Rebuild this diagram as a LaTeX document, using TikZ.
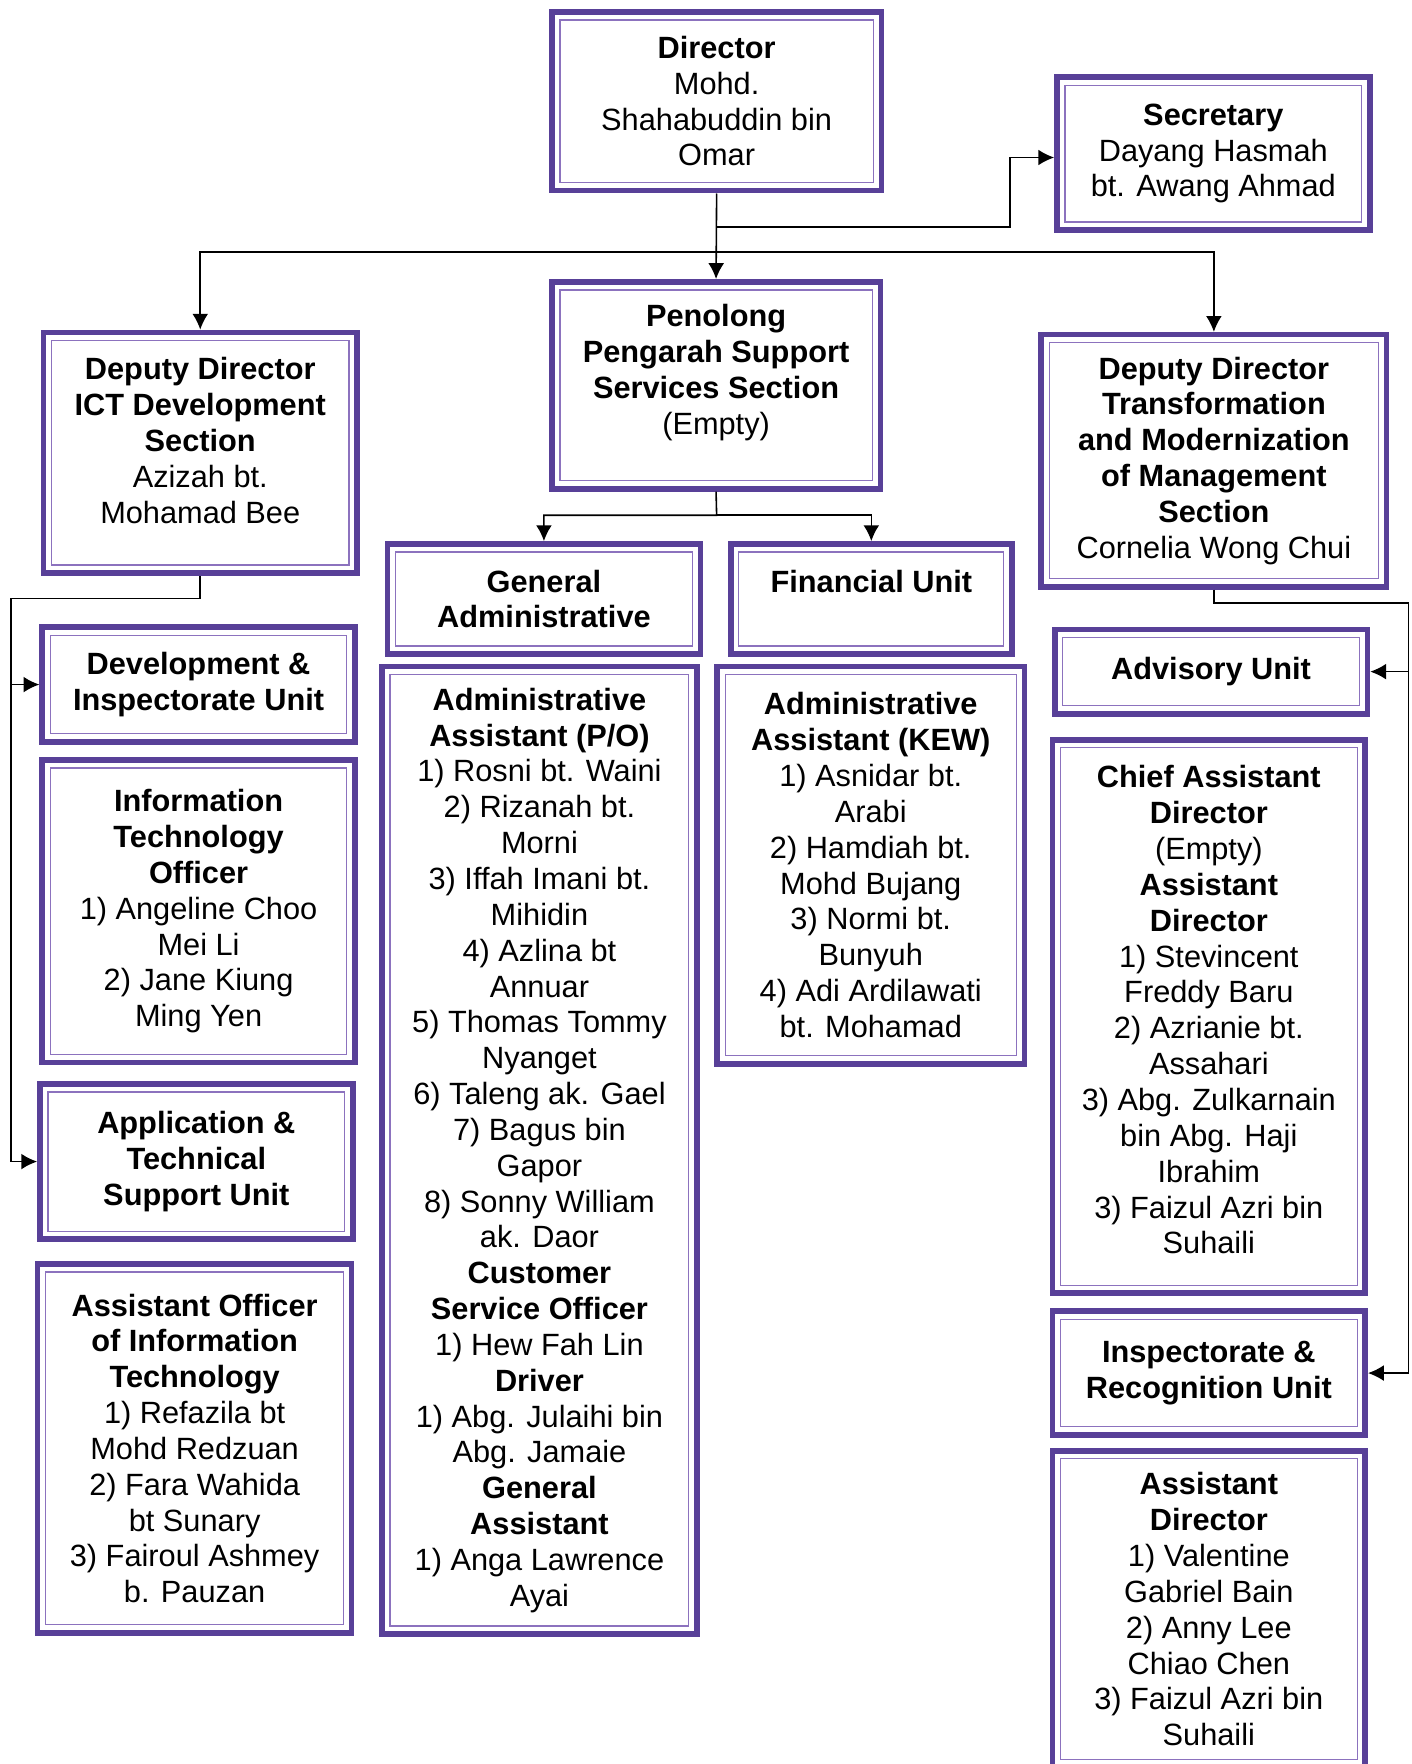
\documentclass[tikz,border=0pt]{standalone}
\usepackage{fontspec}
\setmainfont{Liberation Sans}
\usetikzlibrary{arrows.meta}
\definecolor{boxpurple}{RGB}{88,64,152}
\definecolor{linepurple}{RGB}{140,114,190}
\tikzset{
    orgbox/.style={draw=boxpurple,line width=3.2pt,fill=white,align=center,inner sep=0pt,
        font=\fontsize{17.5}{20.4}\selectfont,
        path picture={\draw[linepurple,line width=0.7pt]([shift={(4.6pt,4.6pt)}]path picture bounding box.south west)rectangle([shift={(-4.6pt,-4.6pt)}]path picture bounding box.north east);}},
    boxsize/.style 2 args={minimum width=#1*0.0225cm-3.2pt,minimum height=#2*0.0225cm-3.2pt},
}
\begin{document}
\begin{tikzpicture}[x=0.0225cm,y=-0.0225cm,>={Latex[length=9pt,width=9pt]},line width=0.9pt]
    \useasboundingbox(0,0)rectangle(1255,1568);
    \node[orgbox,boxsize={298}{164}](dir)at(637,90){\textbf{Director}\\Mohd.\\Shahabuddin bin\\Omar};
    \node[orgbox,boxsize={283}{141}](sec)at(1078.5,136.5){\textbf{Secretary}\\Dayang Hasmah\\bt. Awang Ahmad};
    \node[orgbox,boxsize={297}{189},text depth=18pt](pen)at(636.5,342.5){\textbf{Penolong}\\\textbf{Pengarah Support}\\\textbf{Services Section}\\(Empty)};
    \node[orgbox,boxsize={284}{219},text depth=14pt](ddi)at(178,402.5){\textbf{Deputy Director}\\\textbf{ICT Development}\\\textbf{Section}\\Azizah bt.\\Mohamad Bee};
    \node[orgbox,boxsize={312}{229}](ddt)at(1079,409.5){\textbf{Deputy Director}\\\textbf{Transformation}\\\textbf{and Modernization}\\\textbf{of Management}\\\textbf{Section}\\Cornelia Wong Chui};

    \node[orgbox,boxsize={283}{103}](ga)at(483.5,532.5){\textbf{General}\\\textbf{Administrative}};
    \node[orgbox,boxsize={255}{103}](fu)at(774.5,532.5){\textbf{Financial Unit}\\\mbox{}};
    \node[orgbox,boxsize={285}{865}](aapo)at(479.5,1022.5){\textbf{Administrative}\\\textbf{Assistant (P/O)}\\1) Rosni bt. Waini\\2) Rizanah bt.\\Morni\\3) Iffah Imani bt.\\Mihidin\\4) Azlina bt\\Annuar\\5) Thomas Tommy\\Nyanget\\6) Taleng ak. Gael\\7) Bagus bin\\Gapor\\8) Sonny William\\ak. Daor\\\textbf{Customer}\\\textbf{Service Officer}\\1) Hew Fah Lin\\\textbf{Driver}\\1) Abg. Julaihi bin\\Abg. Jamaie\\\textbf{General}\\\textbf{Assistant}\\1) Anga Lawrence\\Ayai};
    \node[orgbox,boxsize={278}{358}](aakew)at(774,769){\textbf{Administrative}\\\textbf{Assistant (KEW)}\\1) Asnidar bt.\\Arabi\\2) Hamdiah bt.\\Mohd Bujang\\3) Normi bt.\\Bunyuh\\4) Adi Ardilawati\\bt. Mohamad};

    \node[orgbox,boxsize={283}{107}](dev)at(176.5,608.5){\textbf{Development \&}\\\textbf{Inspectorate Unit}};
    \node[orgbox,boxsize={283}{274}](ito)at(176.5,810){\textbf{Information}\\\textbf{Technology}\\\textbf{Officer}\\1) Angeline Choo\\Mei Li\\2) Jane Kiung\\Ming Yen};
    \node[orgbox,boxsize={283}{143}](app)at(174.5,1032.5){\textbf{Application \&}\\\textbf{Technical}\\\textbf{Support Unit}};
    \node[orgbox,boxsize={284}{333}](aoit)at(173,1287.5){\textbf{Assistant Officer}\\\textbf{of Information}\\\textbf{Technology}\\1) Refazila bt\\Mohd Redzuan\\2) Fara Wahida\\bt Sunary\\3) Fairoul Ashmey\\b. Pauzan};

    \node[orgbox,boxsize={283}{80}](adv)at(1076.5,597){\textbf{Advisory Unit}};
    \node[orgbox,boxsize={283}{497},text depth=7.6pt](cad)at(1074.5,903.5){\textbf{Chief Assistant}\\\textbf{Director}\\(Empty)\\\textbf{Assistant}\\\textbf{Director}\\1) Stevincent\\Freddy Baru\\2) Azrianie bt.\\Assahari\\3) Abg. Zulkarnain\\bin Abg. Haji\\Ibrahim\\3) Faizul Azri bin\\Suhaili};
    \node[orgbox,boxsize={283}{115}](irs)at(1074.5,1220.5){\textbf{Inspectorate \&}\\\textbf{Recognition Unit}};
    \node[orgbox,boxsize={283}{287}](ad)at(1074.5,1430.5){\textbf{Assistant}\\\textbf{Director}\\1) Valentine\\Gabriel Bain\\2) Anny Lee\\Chiao Chen\\3) Faizul Azri bin\\Suhaili};

    \coordinate(b1)at(637,202);
    \coordinate(s1)at(898,140);
    \coordinate(b2)at(637,224);
    \coordinate(b3)at(637,458);
    \coordinate(l1)at(10,532);
    \coordinate(r1)at(1252,536);
    \draw[->](dir.south)--(pen.north);
    \draw[->](b1)-|(s1)--(s1-|sec.west);
    \draw[->](b2)-|(ddi.north);
    \draw[->](b2)-|(ddt.north);
    \draw[->](pen.south)--(b3)-|(ga.north);
    \draw[->](b3)-|(fu.north);
    \draw[->](ddi.south)|-(l1)|-(dev.west);
    \draw[->](l1)|-(app.west);
    \draw[->](ddt.south)|-(r1)|-(adv.east);
    \draw[->](r1)|-(irs.east);
\end{tikzpicture}
\end{document}
